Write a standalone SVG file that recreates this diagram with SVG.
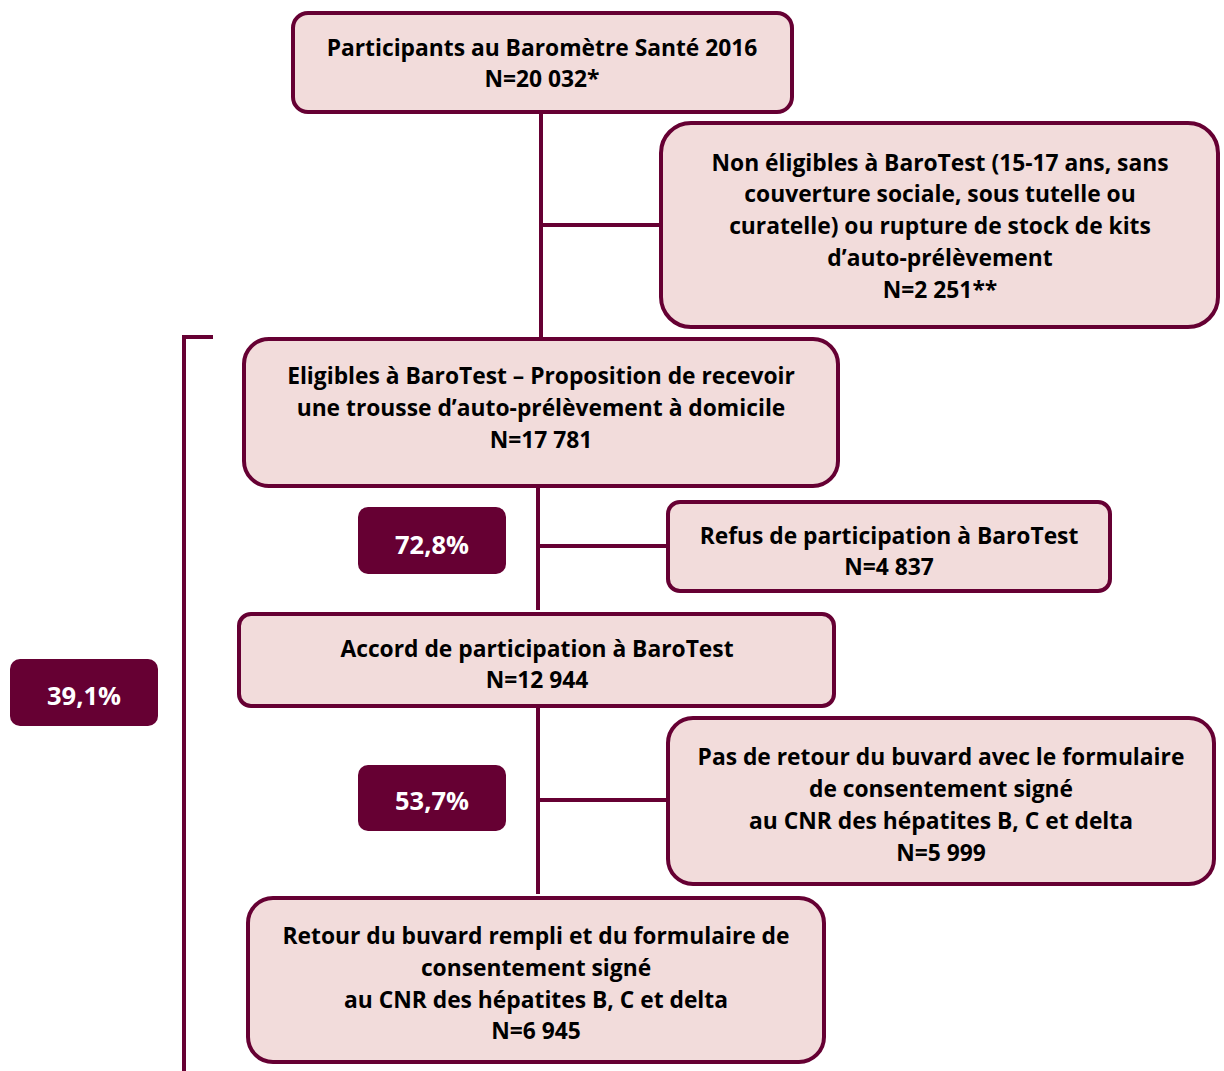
<svg xmlns="http://www.w3.org/2000/svg" width="1224" height="1071" viewBox="0 0 1224 1071">
<style>
.box{fill:#F2DCDB;stroke:#660033;stroke-width:4}
.badge{fill:#660033}
.t{font-family:"Open Sans","Noto Sans","DejaVu Sans",sans-serif;font-weight:bold;font-size:22.8px;fill:#000;text-anchor:middle}
.b{font-family:"Open Sans","Noto Sans","DejaVu Sans",sans-serif;font-weight:bold;font-size:25.5px;fill:#fff;text-anchor:middle}
.c{fill:none;stroke:#660033;stroke-width:4}
</style>
<rect width="1224" height="1071" fill="#fff"/>
<g id="connectors">
<line class="c" x1="541" y1="112" x2="541" y2="339"/>
<line class="c" x1="541" y1="225" x2="661" y2="225"/>
<line class="c" x1="538" y1="486" x2="538" y2="610"/>
<line class="c" x1="538" y1="546" x2="668" y2="546"/>
<line class="c" x1="538" y1="706" x2="538" y2="894"/>
<line class="c" x1="538" y1="800" x2="668" y2="800"/>
<path class="c" d="M184 1071 V337 H213"/>
</g>
<g id="n1"><rect class="box" x="293" y="13" width="499" height="99" rx="15"/>
<text class="t" x="542" y="56">Participants au Baromètre Santé 2016</text>
<text class="t" x="542" y="87">N=20 032*</text></g>
<g id="n2"><rect class="box" x="661" y="123" width="557" height="204" rx="30"/>
<text class="t" x="940" y="171">Non éligibles à BaroTest (15-17 ans, sans</text>
<text class="t" x="940" y="202">couverture sociale, sous tutelle ou</text>
<text class="t" x="940" y="234">curatelle) ou rupture de stock de kits</text>
<text class="t" x="940" y="266">d’auto-prélèvement</text>
<text class="t" x="940" y="298">N=2 251**</text></g>
<g id="n3"><rect class="box" x="244" y="339" width="594" height="147" rx="25"/>
<text class="t" x="541" y="384">Eligibles à BaroTest – Proposition de recevoir</text>
<text class="t" x="541" y="416">une trousse d’auto-prélèvement à domicile</text>
<text class="t" x="541" y="448">N=17 781</text></g>
<g id="n4"><rect class="box" x="668" y="502" width="442" height="89" rx="12"/>
<text class="t" x="889" y="544">Refus de participation à BaroTest</text>
<text class="t" x="889" y="575">N=4 837</text></g>
<g id="n5"><rect class="box" x="239" y="614" width="595" height="92" rx="12"/>
<text class="t" x="537" y="657">Accord de participation à BaroTest</text>
<text class="t" x="537" y="688">N=12 944</text></g>
<g id="n6"><rect class="box" x="668" y="718" width="546" height="166" rx="25"/>
<text class="t" x="941" y="765">Pas de retour du buvard avec le formulaire</text>
<text class="t" x="941" y="797">de consentement signé</text>
<text class="t" x="941" y="829">au CNR des hépatites B, C et delta</text>
<text class="t" x="941" y="861">N=5 999</text></g>
<g id="n7"><rect class="box" x="248" y="898" width="576" height="164" rx="25"/>
<text class="t" x="536" y="944">Retour du buvard rempli et du formulaire de</text>
<text class="t" x="536" y="976">consentement signé</text>
<text class="t" x="536" y="1008">au CNR des hépatites B, C et delta</text>
<text class="t" x="536" y="1039">N=6 945</text></g>
<g id="b1"><rect class="badge" x="358" y="507" width="148" height="67" rx="10"/>
<text class="b" x="432" y="554">72,8%</text></g>
<g id="b2"><rect class="badge" x="358" y="765" width="148" height="66" rx="10"/>
<text class="b" x="432" y="810">53,7%</text></g>
<g id="b3"><rect class="badge" x="10" y="659" width="148" height="67" rx="10"/>
<text class="b" x="84" y="705">39,1%</text></g>
</svg>
